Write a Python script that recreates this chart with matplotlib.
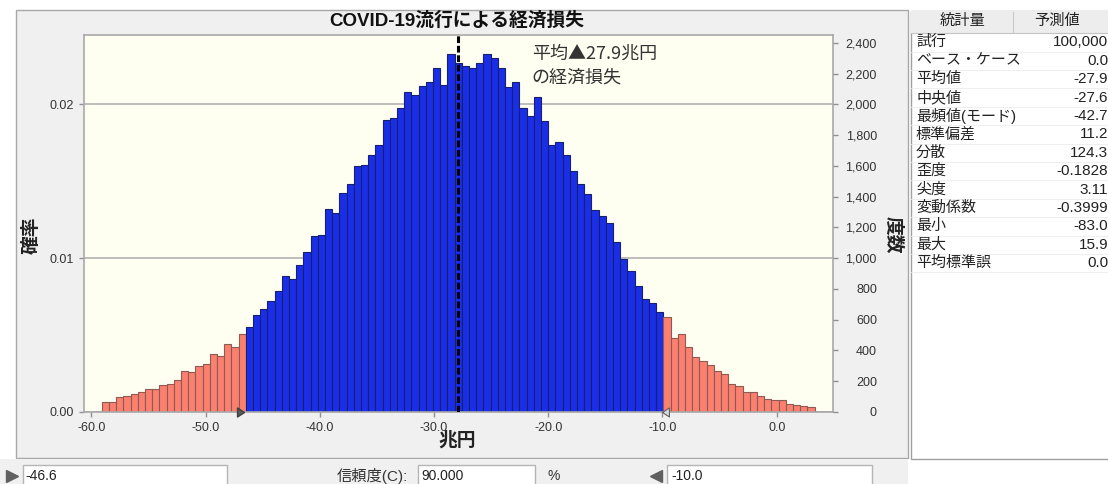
import numpy as np
import matplotlib
matplotlib.use('Agg')
import matplotlib.pyplot as plt
from matplotlib.patches import Rectangle
from matplotlib.path import Path

plt.rcParams['font.family'] = ['Liberation Sans', 'Noto Sans CJK JP', 'DejaVu Sans']
CJK = ['Noto Sans CJK JP', 'DejaVu Sans']

# ---------------- data ----------------
title = 'COVID-19流行による経済損失'
x_label = '兆円'
y_left_label = '確率'
y_right_label = '度数'
annotation_lines = ['平均▲27.9兆円', 'の経済損失']

n_trials = 100000
bin_start = -59.1
bin_width = 0.6305
counts = [
    65, 65, 97, 102, 117, 128, 152, 147, 177, 182,
    208, 266, 257, 301, 312, 379, 364, 439, 424, 506,
    550, 630, 667, 723, 784, 885, 862, 957, 1037, 1141,
    1149, 1323, 1292, 1424, 1481, 1599, 1606, 1671, 1738, 1898,
    1914, 1979, 2083, 2063, 2119, 2145, 2236, 2125, 2325, 2271,
    2249, 2236, 2268, 2325, 2299, 2236, 2112, 2145, 1976, 1927,
    2047, 1892, 1737, 1755, 1672, 1569, 1480, 1418, 1312, 1273,
    1229, 1106, 994, 914, 820, 736, 706, 649, 619, 480,
    506, 424, 357, 331, 305, 266, 245, 184, 166, 132,
    127, 106, 86, 76, 76, 52, 45, 41, 30,
]
mean_value = -27.9
lower_cert = -46.6
upper_cert = -10.0
certainty_text = '90.000'
lower_text = '-46.6'
upper_text = '-10.0'

x_ticks = [-60, -50, -40, -30, -20, -10, 0]
x_tick_labels = ['-60.0', '-50.0', '-40.0', '-30.0', '-20.0', '-10.0', '0.0']
prob_ticks = [0.00, 0.01, 0.02]
prob_tick_labels = ['0.00', '0.01', '0.02']
freq_ticks = [0, 200, 400, 600, 800, 1000, 1200, 1400, 1600, 1800, 2000, 2200, 2400]
freq_tick_labels = ['0', '200', '400', '600', '800', '1,000', '1,200', '1,400',
                    '1,600', '1,800', '2,000', '2,200', '2,400']

stat_header = ['統計量', '予測値']
stat_names = ['試行', 'ベース・ケース', '平均値', '中央値', '最頻値(モード)', '標準偏差',
              '分散', '歪度', '尖度', '変動係数', '最小', '最大', '平均標準誤']
stat_values = ['100,000', '0.0', '-27.9', '-27.6', '-42.7', '11.2',
               '124.3', '-0.1828', '3.11', '-0.3999', '-83.0', '15.9', '0.0']

# ---------------- figure ----------------
W, H = 1108, 484
fig = plt.figure(figsize=(W / 100, H / 100), dpi=100)
fig.patch.set_facecolor('white')

bg = fig.add_axes([0, 0, 1, 1], zorder=0)
bg.set_xlim(0, W)
bg.set_ylim(H, 0)
bg.axis('off')

# chart panel
bg.add_patch(Rectangle((16, 10), 892, 448, facecolor='#f0f0f0', edgecolor='#a8a8a8', lw=1))
bg.add_patch(Rectangle((0, 458.5), 908, 30, facecolor='#f0f0f0', edgecolor='none'))

# main axes
L, R, T, B = 84, 833, 35, 412
ax = fig.add_axes([L / W, 1 - B / H, (R - L) / W, (B - T) / H], zorder=1)
ax.set_facecolor('#fefef1')
ymax = 2451
ax.set_xlim(-60.65, 4.93)
ax.set_ylim(0, ymax)

edges = bin_start + bin_width * np.arange(len(counts) + 1)
centers = edges[:-1] + bin_width / 2
counts_arr = np.array(counts)
tail = (centers < lower_cert) | (centers > upper_cert)
face = np.where(tail, '#fb8070', '#1a2ee8')
edgec = np.where(tail, '#8e5a52', '#16206e')
ax.bar(edges[:-1], counts_arr, width=bin_width, align='edge',
       color=face, edgecolor=edgec, linewidth=0.8, zorder=2)

ax.axvline(mean_value, color='black', lw=2.2, ls=(0, (2.2, 0.9)), zorder=4)

ax.set_yticks([p * n_trials for p in prob_ticks])
ax.set_yticklabels(prob_tick_labels)
ax.set_xticks(x_ticks)
ax.set_xticklabels(x_tick_labels)
ax.yaxis.grid(True, color='#b8b8b8', lw=1.3)
ax.set_axisbelow(True)
for s in ax.spines.values():
    s.set_color('#a8a8a8')
    s.set_linewidth(1.2)
ax.tick_params(axis='both', length=3.6, width=1, color='#909090',
               labelsize=9, labelcolor='#333333', pad=3.5)

ax2 = ax.twinx()
ax2.set_ylim(0, ymax)
ax2.set_yticks(freq_ticks)
ax2.set_yticklabels(freq_tick_labels, ha='right')
ax2.tick_params(axis='y', length=3.6, width=1, color='#909090',
                labelsize=9, labelcolor='#333333', pad=28)
for s in ax2.spines.values():
    s.set_visible(False)

# threshold markers
tri_right = Path([(0, 0), (-1, 0.65), (-1, -0.65), (0, 0)])
tri_left = Path([(0, 0), (1, 0.65), (1, -0.65), (0, 0)])
ax.plot([lower_cert], [0], marker=tri_right, ms=10, color='#5a5a5a',
        mec='#404040', clip_on=False, zorder=5)
ax.plot([upper_cert], [0], marker=tri_left, ms=10, color='#d8d8e2',
        mec='#606060', mew=0.8, clip_on=False, zorder=5)

# annotation
for k, (line, ypx) in enumerate(zip(annotation_lines, [54, 78])):
    ax.text(-21.45, ymax - (ypx - T) / (B - T) * ymax, line, family=CJK,
            fontsize=13, color='#333333', va='center', ha='left')

# titles & labels
bg.text(457, 21, title, fontsize=13.5, fontweight='bold', ha='center', va='center', color='#111111')
bg.text(457, 440, x_label, fontsize=13.5, fontweight='bold', ha='center', va='center', color='#222222')
bg.text(32, 235, y_left_label, fontsize=13.5, fontweight='bold', rotation=90,
        ha='center', va='center', color='#222222')
bg.text(893, 235, y_right_label, fontsize=13.5, fontweight='bold', rotation=270,
        ha='center', va='center', color='#222222')

# bottom controls
yc = 476
fs_ctl = 10
bg.plot([12], [yc], marker='>', ms=8, color='#606060')
bg.add_patch(Rectangle((22.5, 465), 204, 25, facecolor='white', edgecolor='#b4b4b4', lw=1))
bg.text(25, yc, lower_text, fontsize=fs_ctl, va='center', ha='left', color='#222222')
bg.text(408, yc, '信頼度(C):', fontsize=11, va='center', ha='right', color='#333333')
bg.add_patch(Rectangle((418, 465), 117, 25, facecolor='white', edgecolor='#b4b4b4', lw=1))
bg.text(421, yc, certainty_text, fontsize=fs_ctl, va='center', ha='left', color='#222222')
bg.text(548, yc, '%', fontsize=fs_ctl, va='center', ha='left', color='#333333')
bg.plot([656], [yc], marker='<', ms=8, color='#606060')
bg.add_patch(Rectangle((667, 465), 205, 25, facecolor='white', edgecolor='#b4b4b4', lw=1))
bg.text(671, yc, upper_text, fontsize=fs_ctl, va='center', ha='left', color='#222222')

# statistics table
bg.add_patch(Rectangle((910.5, 10.5), 200, 448, facecolor='white', edgecolor='#a0a0a0', lw=1))
bg.add_patch(Rectangle((911, 11), 200, 21.5, facecolor='#ededed', edgecolor='none'))
bg.plot([911, W], [32.5, 32.5], color='#c4c4c4', lw=0.8)
bg.plot([1013, 1013], [12, 32], color='#c8c8c8', lw=0.8)
bg.text(963, 21, stat_header[0], fontsize=11, ha='center', va='center', color='#222222')
bg.text(1057, 21, stat_header[1], fontsize=11, ha='center', va='center', color='#222222')
row_h = 18.4
for i, (nm, val) in enumerate(zip(stat_names, stat_values)):
    y = 42.3 + i * row_h
    bg.text(916, y, nm, fontsize=10.8, ha='left', va='center', color='#222222')
    bg.text(1108, y, val, fontsize=11, ha='right', va='center', color='#222222')
    bg.plot([911, W], [y + row_h / 2, y + row_h / 2], color='#ececec', lw=0.6)

fig.savefig('out.png', dpi=100, facecolor=fig.get_facecolor())
